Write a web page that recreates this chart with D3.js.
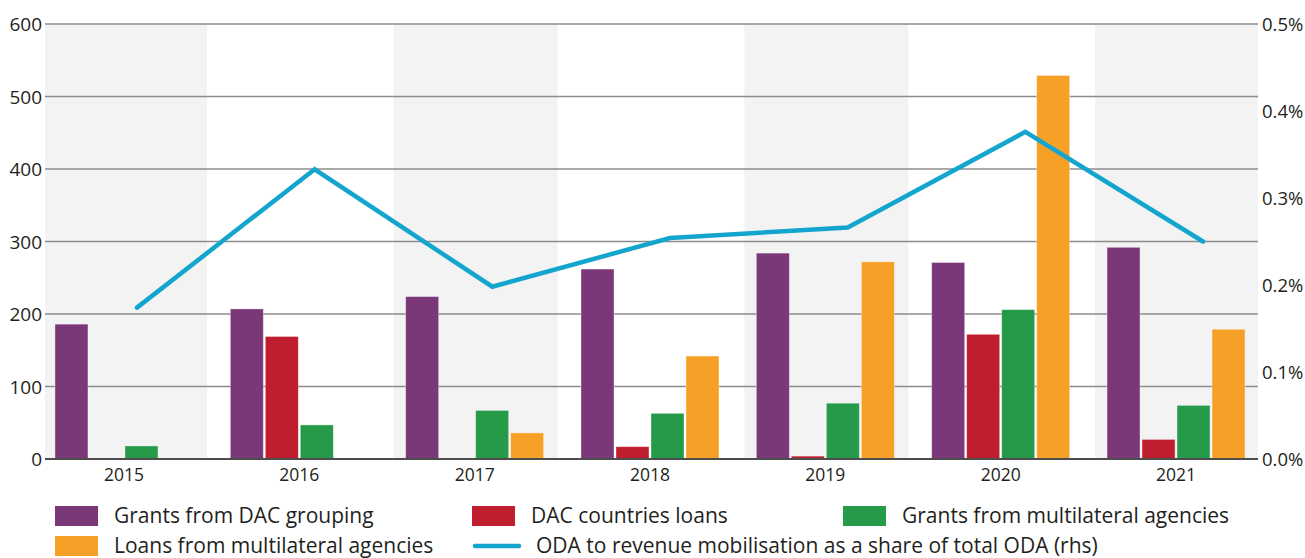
<!DOCTYPE html>
<html><head><meta charset="utf-8">
<script src="https://cdn.jsdelivr.net/npm/d3@7"></script>
<style>
body{margin:0;background:#fff;}
svg text{font-family:"Open Sans",sans-serif;fill:#231f20;}
</style></head>
<body><svg id="c" width="1305" height="558"></svg>
<script>
const years = ["2015","2016","2017","2018","2019","2020","2021"];
const seriesNames = ["Grants from DAC grouping","DAC countries loans","Grants from multilateral agencies","Loans from multilateral agencies"];
const grantsDAC = [186, 207, 224, 262, 284, 271, 292];
const loansDAC = [0, 169, 0, 17, 4, 172, 27];
const grantsMulti = [18, 47, 67, 63, 77, 206, 74];
const loansMulti = [0, 0, 36, 142, 272, 529, 179];
const odaShare = [0.00174, 0.00333, 0.00198, 0.00254, 0.00266, 0.00376, 0.00250];
const leftTicks = [0, 100, 200, 300, 400, 500, 600];
const rightTicks = [0, 0.001, 0.002, 0.003, 0.004, 0.005];
const lineName = "ODA to revenue mobilisation as a share of total ODA (rhs)";
const colors = ["#7b3878", "#be1e2d", "#259a48", "#f7a028"];
const lineColor = "#14a5cf";

const svg = d3.select("#c");
const L = 45, R = 1258, T = 24, B = 459;
const y = d3.scaleLinear().domain([0, 600]).range([B, T]);
const y2 = d3.scaleLinear().domain([0, 0.005]).range([B, T]);
const x0 = d3.scaleBand().domain(years).range([36.3, 1263.7]);
const x1 = d3.scaleBand().domain(seriesNames).range([-70, 70]).paddingInner(2/35).paddingOuter(1/35);
const xl = d3.scalePoint().domain(years).range([137, 1203]);
const allSeries = [grantsDAC, loansDAC, grantsMulti, loansMulti];

// shaded bands
const bandL = d => Math.max(L, x0(d) + x0.bandwidth()/2 - 81);
const bandR = d => Math.min(R, x0(d) + x0.bandwidth()/2 + 83);
svg.append("g").selectAll("rect").data(years.filter((d,i)=>i%2===0)).join("rect")
  .attr("x", bandL).attr("width", d => bandR(d) - bandL(d))
  .attr("y", T).attr("height", B - T).attr("fill", "#f3f3f3");

// grid
svg.append("g").selectAll("line").data(leftTicks.filter(d=>d>0)).join("line")
  .attr("x1", L).attr("x2", R).attr("y1", d => y(d)).attr("y2", d => y(d))
  .attr("stroke", "#8c8c8c").attr("stroke-width", 1.4);

// bars
const groups = svg.append("g").selectAll("g").data(years).join("g")
  .attr("transform", d => `translate(${x0(d) + x0.bandwidth()/2},0)`);
groups.selectAll("rect").data((d,i) => seriesNames.map((s,j) => ({s, v: allSeries[j][i], c: colors[j]})).filter(e => e.v > 0))
  .join("rect")
  .attr("x", d => x1(d.s)).attr("width", x1.bandwidth())
  .attr("y", d => y(d.v)).attr("height", d => B - y(d.v))
  .attr("fill", d => d.c).attr("stroke", "#fff").attr("stroke-opacity", 0.45).attr("stroke-width", 0.8);

// baseline
svg.append("line").attr("x1", L).attr("x2", R).attr("y1", B).attr("y2", B)
  .attr("stroke", "#4d4d4d").attr("stroke-width", 2);

// line
svg.append("path").datum(odaShare)
  .attr("d", d3.line().x((d,i) => xl(years[i])).y(d => y2(d)))
  .attr("fill", "none").attr("stroke", lineColor).attr("stroke-width", 4.5)
  .attr("stroke-linecap", "round").attr("stroke-linejoin", "miter");

// axes
const la = svg.append("g").attr("transform", `translate(${L},0)`)
  .call(d3.axisLeft(y).tickValues(leftTicks).tickSize(0).tickPadding(3));
la.select(".domain").remove();
la.selectAll("text").style("font-size", "19px").attr("dy", "0.36em");
const ra = svg.append("g").attr("transform", `translate(${R},0)`)
  .call(d3.axisRight(y2).tickValues(rightTicks).tickFormat(d3.format(".1%")).tickSize(0).tickPadding(4));
ra.select(".domain").remove();
ra.selectAll("text").style("font-size", "18.5px").attr("dy", "0.36em");
const xa = svg.append("g").attr("transform", `translate(0,${B})`)
  .call(d3.axisBottom(x0).tickSize(0).tickPadding(10));
xa.select(".domain").remove();
xa.selectAll("text").style("font-size", "17.5px");
svg.selectAll(".tick text").attr("fill", "#231f20");

// legend
const leg = [
  {t: seriesNames[0], c: colors[0], x: 55, y: 516, type: "rect"},
  {t: seriesNames[1], c: colors[1], x: 472, y: 516, type: "rect"},
  {t: seriesNames[2], c: colors[2], x: 843, y: 516, type: "rect"},
  {t: seriesNames[3], c: colors[3], x: 55, y: 546, type: "rect"},
  {t: lineName, c: lineColor, x: 473, y: 546, type: "line"}
];
const lg = svg.append("g").selectAll("g").data(leg).join("g")
  .attr("transform", d => `translate(${d.x},${d.y})`);
lg.filter(d => d.type === "rect").append("rect").attr("x", 0).attr("y", -10).attr("width", 43).attr("height", 20).attr("fill", d => d.c);
lg.filter(d => d.type === "line").append("line").attr("x1", 2).attr("x2", 46).attr("y1", 0).attr("y2", 0)
  .attr("stroke", d => d.c).attr("stroke-width", 4.5).attr("stroke-linecap", "round");
lg.append("text").attr("x", d => d.type === "line" ? 63 : 59).attr("y", 0).attr("dy", "0.34em")
  .style("font-size", "21px").text(d => d.t);
</script></body></html>
